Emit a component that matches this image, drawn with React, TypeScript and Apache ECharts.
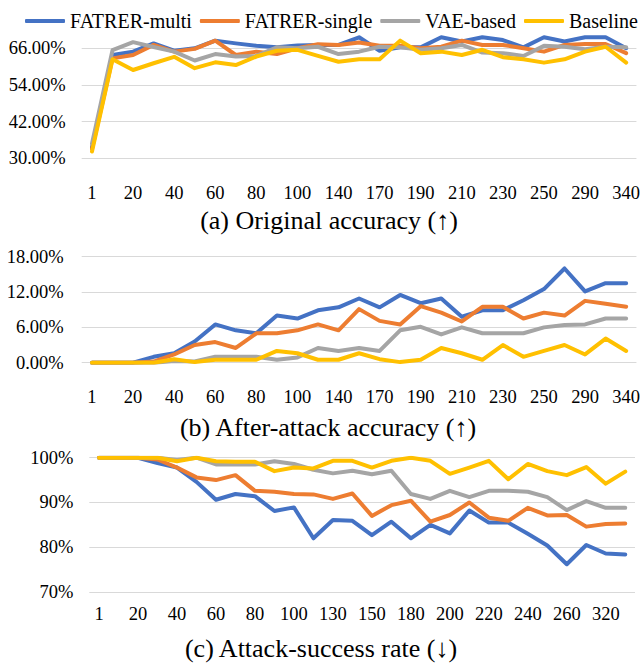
import React, { useEffect, useRef } from "react";
import * as echarts from "echarts";

const seriesNames = ["FATRER-multi", "FATRER-single", "VAE-based", "Baseline"];
const colors = ["#4472C4", "#ED7D31", "#A5A5A5", "#FFC000"];

const catsAB = ["1", "10", "20", "30", "40", "50", "60", "70", "80", "90", "100", "120", "140", "160", "170", "180", "190", "200", "210", "220", "230", "240", "250", "270", "290", "320", "340"];
const catsC = ["1", "10", "20", "30", "40", "50", "60", "70", "80", "90", "100", "120", "130", "140", "150", "170", "180", "190", "200", "210", "220", "230", "240", "250", "260", "290", "320", "340"];

// (a) Original accuracy (%)
const aMulti = [33.5, 63.8, 64.9, 67.6, 65.2, 66.0, 68.5, 67.6, 66.8, 66.3, 66.9, 67.1, 67.1, 69.6, 65.2, 66.3, 66.3, 69.6, 68.2, 69.6, 68.7, 66.3, 69.6, 68.2, 69.6, 69.6, 66.0];
const aSingle = [33, 62.7, 63.8, 67.1, 64.9, 65.8, 68.5, 63.8, 64.9, 64.1, 66.0, 67.3, 67.1, 67.9, 66.8, 66.8, 66.0, 66.5, 68.5, 67.1, 67.1, 66.0, 64.9, 67.1, 67.4, 67.4, 64.4];
const aVae = [34.8, 65.4, 68.0, 66.4, 64.9, 62.0, 64.1, 63.3, 63.5, 66.3, 66.0, 66.5, 64.1, 64.9, 66.5, 66.3, 65.5, 66.0, 67.1, 64.6, 64.4, 63.5, 66.8, 66.5, 65.7, 66.5, 66.3];
const aBase = [32.2, 62.4, 58.9, 61.1, 63.2, 59.5, 61.4, 60.5, 63.3, 65.2, 65.5, 63.5, 61.6, 62.4, 62.4, 68.5, 64.4, 64.9, 63.8, 65.5, 63.1, 62.4, 61.3, 62.4, 64.9, 66.5, 61.3];

// (b) After-attack accuracy (%)
const bMulti = [0, 0, 0, 1.0, 1.6, 3.6, 6.5, 5.5, 5.0, 8.0, 7.5, 8.9, 9.4, 10.9, 9.4, 11.5, 10.1, 10.9, 7.8, 8.9, 8.9, 10.6, 12.5, 16.0, 12.1, 13.5, 13.5];
const bSingle = [0, 0, 0, 0.2, 1.4, 3.0, 3.5, 2.5, 5.0, 5.0, 5.5, 6.5, 5.5, 9.1, 7.1, 6.5, 9.6, 8.5, 7.0, 9.5, 9.5, 7.5, 8.5, 8.0, 10.5, 10.0, 9.5];
const bVae = [0, 0, 0, 0, 0.3, 0.2, 1.0, 1.0, 1.0, 0.5, 0.9, 2.5, 2.0, 2.5, 2.0, 5.5, 6.1, 4.8, 6.0, 5.0, 5.0, 5.0, 6.0, 6.4, 6.5, 7.5, 7.5];
const bBase = [0, 0, 0, 0, 0.6, 0.1, 0.5, 0.5, 0.5, 2.0, 1.6, 0.5, 0.5, 1.6, 0.6, 0.1, 0.5, 2.5, 1.6, 0.5, 3.0, 1.0, 2.0, 3.0, 1.4, 4.1, 2.0];

// (c) Attack-success rate (%)
const cMulti = [100, 100, 100, 98.8, 97.8, 94.6, 90.6, 91.9, 91.4, 88.1, 88.9, 82.0, 86.1, 85.9, 82.7, 85.7, 82.0, 85.0, 83.1, 88.2, 85.5, 85.5, 83.0, 80.4, 76.2, 80.5, 78.6, 78.4];
const cSingle = [100, 100, 100, 99.6, 97.8, 95.6, 95.0, 96.1, 92.6, 92.4, 91.9, 91.8, 90.8, 92.0, 87.0, 89.4, 90.4, 85.7, 87.2, 90.0, 86.6, 85.9, 88.8, 87.1, 87.2, 84.6, 85.2, 85.3];
const cVae = [100, 100, 100, 100, 99.5, 100, 98.5, 98.5, 98.5, 99.2, 98.6, 97.3, 96.5, 97.1, 96.3, 97.1, 91.9, 90.8, 92.6, 91.2, 92.6, 92.6, 92.4, 91.2, 88.3, 90.3, 88.8, 88.8];
const cBase = [100, 100, 100, 100, 99.2, 100, 99.2, 99.1, 99.1, 97.0, 97.8, 97.6, 99.3, 99.3, 97.8, 99.3, 100, 99.3, 96.4, 97.8, 99.3, 95.2, 98.6, 97.0, 96.1, 97.9, 94.2, 96.9];

const titles = ["(a) Original accuracy (\u2191)", "(b) After-attack accuracy (\u2191)", "(c) Attack-success rate (\u2193)"];

const FONT = "Liberation Serif";
const GRID = "#D9D9D9";
const CSS = `body{margin:0;} #chart-root svg text{font-family:"Liberation Serif","Times New Roman",serif !important;}`;

export default function App() {
  const ref = useRef<HTMLDivElement>(null);
  useEffect(() => {
    document.body.style.margin = "0";
    if (!ref.current) return;
    const chart = echarts.init(ref.current, undefined, { renderer: "svg" });

    const panels = [
      { data: [aMulti, aSingle, aVae, aBase] },
      { data: [bMulti, bSingle, bVae, bBase] },
      { data: [cMulti, cSingle, cVae, cBase] },
    ];

    const series: any[] = [];
    panels.forEach((p, pi) => {
      p.data.forEach((d, si) => {
        series.push({
          type: "line",
          name: seriesNames[si],
          xAxisIndex: pi,
          yAxisIndex: pi,
          data: d,
          symbol: "none",
          color: colors[si],
          lineStyle: { width: 4, cap: "round", join: "round" },
        });
      });
    });

    const xa = (gi: number, cats: string[], margin: number) => ({
      type: "category",
      gridIndex: gi,
      data: cats,
      boundaryGap: true,
      axisLine: { show: false },
      axisTick: { show: false },
      axisLabel: { color: "#000", fontSize: 18.5, fontFamily: FONT, interval: 1, margin: margin },
    });

    const ya = (gi: number, min: number, max: number, interval: number, margin: number, fmt: (v: number) => string, gridColors: any) => ({
      type: "value",
      gridIndex: gi,
      min: min,
      max: max,
      interval: interval,
      axisLine: { show: false },
      axisTick: { show: false },
      axisLabel: { color: "#000", fontSize: 18.5, fontFamily: FONT, margin: margin, formatter: fmt },
      splitLine: { lineStyle: { color: gridColors } },
    });

    const pctFmt2 = (v: number) => (v > 66 && v < 72 ? "" : v.toFixed(2) + "%");
    const pctFmt2b = (v: number) => v.toFixed(2) + "%";
    const pctFmt0 = (v: number) => v + "%";

    const titleBase = (text: string, cx: number, top: number) => ({
      text: text,
      left: cx,
      top: top,
      textAlign: "center",
      padding: 0,
      textStyle: { color: "#000", fontSize: 26, fontWeight: "normal", fontFamily: FONT },
    });

    chart.setOption({
      animation: false,
      backgroundColor: "#fff",
      title: [titleBase(titles[0], 329, 207.5), titleBase(titles[1], 328, 414), titleBase(titles[2], 321, 635)],
      legend: {
        data: seriesNames.map((n) => ({ name: n, icon: "roundRect" })),
        left: 20,
        top: 6,
        width: 640,
        itemWidth: 40,
        itemHeight: 4,
        itemGap: 8,
        textStyle: { color: "#000", fontSize: 20, fontFamily: FONT },
      },
      grid: [
        { left: 81.7, right: 5, top: 33, height: 125.3 },
        { left: 81.7, right: 5, top: 256.7, height: 106 },
        { left: 89.3, right: 8, top: 457.7, height: 134.3 },
      ],
      xAxis: [xa(0, catsAB, 25), xa(1, catsAB, 24.5), xa(2, catsC, 12)],
      yAxis: [
        ya(0, 30, 71, 12, 16, pctFmt2, [GRID, GRID, GRID, GRID, "rgba(0,0,0,0)"]),
        ya(1, 0, 18, 6, 18, pctFmt2b, GRID),
        ya(2, 70, 100, 10, 16, pctFmt0, GRID),
      ],
      series,
    });
    return () => chart.dispose();
  }, []);

  return (
    <>
      <style>{CSS}</style>
      <div id="chart-root" ref={ref} style={{ width: 643, height: 664 }} />
    </>
  );
}
